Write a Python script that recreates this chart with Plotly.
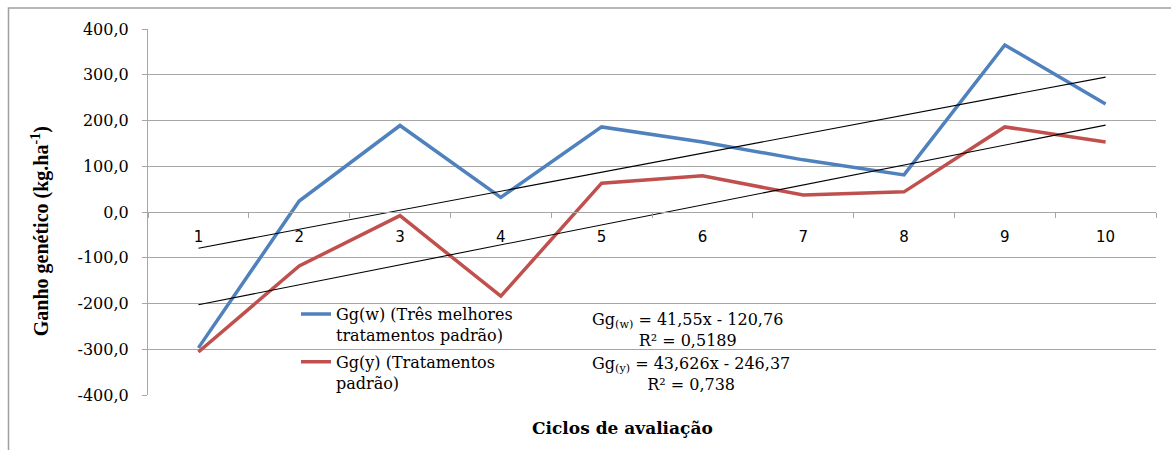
import plotly.graph_objects as go

# ---- data ----
cycles = ["1", "2", "3", "4", "5", "6", "7", "8", "9", "10"]
gg_w = [-297, 24, 189, 32, 186, 153, 114, 81, 365, 236]
gg_y = [-306, -118, -8, -184, 63, 79, 37, 44, 186, 153]
trend_w = {"slope": 41.55, "intercept": -120.76}
trend_y = {"slope": 43.626, "intercept": -246.37}
y_tickvals = [400, 300, 200, 100, 0, -100, -200, -300, -400]
y_ticktext = ["400,0", "300,0", "200,0", "100,0", "0,0", "-100,0", "-200,0", "-300,0", "-400,0"]
name_w = "Gg(w) (Três melhores<br>tratamentos padrão)"
name_y = "Gg(y) (Tratamentos<br>padrão)"
eq_w = "Gg<sub>(w)</sub> = 41,55x - 120,76<br>R² = 0,5189"
eq_y = "Gg<sub>(y)</sub> = 43,626x - 246,37<br>R² = 0,738"

BLUE = "#4F81BD"
RED = "#C0504D"
GRID = "#a6a6a6"
SERIF = "Liberation Serif, Times New Roman, serif"
WIDE_SERIF = "DejaVu Serif, Liberation Serif, serif"
SANS = "DejaVu Sans, Liberation Sans, Arial, sans-serif"

W, H = 1171, 450
ML, MR, MT, MB = 148, 15, 28.5, 55
pw, ph = W - ML - MR, H - MT - MB


def px_x(p):
    return (p - ML) / pw


def px_y(p):
    return 1 - (p - MT) / ph


fig = go.Figure()
fig.add_trace(go.Scatter(x=cycles, y=gg_w, mode="lines", name=name_w,
                         legendgroup="w",
                         line=dict(color=BLUE, width=3.5)))
fig.add_trace(go.Scatter(x=cycles, y=gg_y, mode="lines", name=name_y,
                         legendgroup="y",
                         line=dict(color=RED, width=3.5)))

for tr in (trend_w, trend_y):
    yy = [tr["slope"] * (i + 1) + tr["intercept"] for i in range(len(cycles))]
    fig.add_trace(go.Scatter(x=cycles, y=yy, mode="lines", showlegend=False,
                             line=dict(color="black", width=1.1)))

fig.update_layout(
    width=W, height=H,
    margin=dict(l=ML, r=MR, t=MT, b=MB),
    paper_bgcolor="white", plot_bgcolor="white",
    font=dict(family=SERIF, color="black", size=15),
    legend=dict(x=px_x(296), y=px_y(297), xanchor="left", yanchor="top",
                bgcolor="rgba(0,0,0,0)", font=dict(family=WIDE_SERIF, size=16),
                valign="top", traceorder="grouped", tracegroupgap=3),
    xaxis=dict(type="category", range=[-0.5, 9.5], anchor="free", position=0.5,
               showline=True, linecolor=GRID, linewidth=1.2,
               ticks="outside", tickson="boundaries", ticklen=5, tickcolor=GRID,
               showgrid=False, ticklabelstandoff=11,
               tickfont=dict(family=SANS, size=15)),
    yaxis=dict(range=[-400, 400], tickvals=y_tickvals, ticktext=y_ticktext,
               showline=True, linecolor=GRID, linewidth=1.2,
               ticks="outside", ticklen=5, tickcolor=GRID,
               showgrid=True, gridcolor=GRID, gridwidth=1.2, zeroline=False,
               ticklabelstandoff=10,
               tickfont=dict(family=WIDE_SERIF, size=16)),
    showlegend=True,
)

fig.add_annotation(xref="paper", yref="paper", x=px_x(40), y=px_y(231),
                   xanchor="center", yanchor="middle",
                   text="<b>Ganho genético (kg.ha<sup>-1</sup>)</b>", textangle=-90,
                   showarrow=False, font=dict(family=SERIF, size=20))
fig.add_annotation(xref="paper", yref="paper", x=px_x(622), y=px_y(428),
                   xanchor="center", yanchor="middle",
                   text="<b>Ciclos de avaliação</b>",
                   showarrow=False, font=dict(family=WIDE_SERIF, size=17))
fig.add_annotation(xref="paper", yref="paper", x=px_x(687), y=px_y(330),
                   xanchor="center", yanchor="middle",
                   text=eq_w, showarrow=False, align="center",
                   font=dict(family=WIDE_SERIF, size=16))
fig.add_annotation(xref="paper", yref="paper", x=px_x(691), y=px_y(374),
                   xanchor="center", yanchor="middle",
                   text=eq_y, showarrow=False, align="center",
                   font=dict(family=WIDE_SERIF, size=16))

fig.add_shape(type="rect", xref="paper", yref="paper",
              x0=px_x(8.5), x1=px_x(1190), y0=px_y(7.5), y1=px_y(470),
              line=dict(color="#a0a0a0", width=1.5), fillcolor="rgba(0,0,0,0)",
              layer="below")

fig.write_html("out.html", config={"displayModeBar": False},
               post_script="document.body.style.margin='0';document.body.style.overflow='hidden';")
